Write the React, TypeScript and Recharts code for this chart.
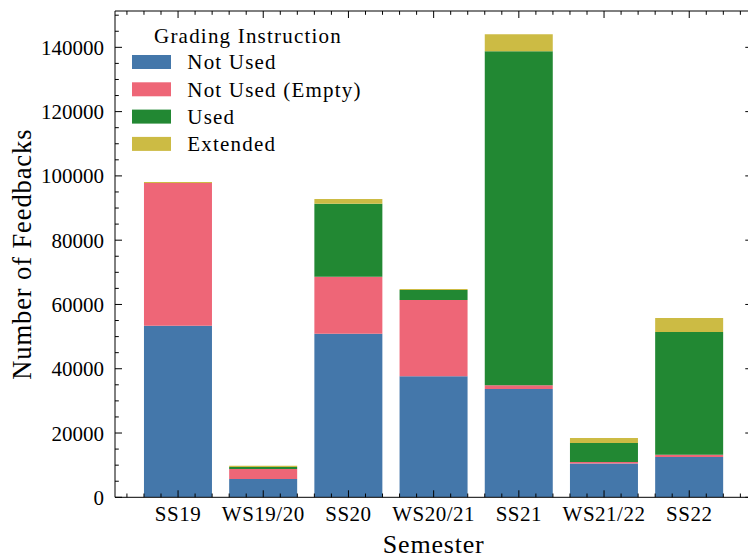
import React from 'react';
import { BarChart, Bar, XAxis, YAxis, Legend } from 'recharts';

const semesters = ['SS19', 'WS19/20', 'SS20', 'WS20/21', 'SS21', 'WS21/22', 'SS22'];
const notUsed = [53400, 5700, 50900, 37700, 33700, 10500, 12500];
const notUsedEmpty = [44400, 3100, 17700, 23700, 1200, 500, 700];
const used = [0, 600, 22700, 3100, 103900, 5900, 38200];
const extended = [300, 400, 1500, 300, 5300, 1550, 4400];

// y ticks every 5000 (labels on multiples of 20000)
const yTicks = [
  0, 5000, 10000, 15000, 20000, 25000, 30000, 35000, 40000, 45000, 50000, 55000, 60000, 65000,
  70000, 75000, 80000, 85000, 90000, 95000, 100000, 105000, 110000, 115000, 120000, 125000,
  130000, 135000, 140000, 145000, 150000,
];
const yLabelStep = 20000;
// minor x ticks, in category units relative to each category centre
const xMinorOffsets = [-0.4, -0.2, 0.2, 0.4];
const xEdgeOffset = 0.6;

const series = [
  { key: 'notUsed', name: 'Not Used', color: '#4477AA' },
  { key: 'notUsedEmpty', name: 'Not Used (Empty)', color: '#EE6677' },
  { key: 'used', name: 'Used', color: '#228833' },
  { key: 'extended', name: 'Extended', color: '#CCBB44' },
];

const data = semesters.map((s, i) => ({
  semester: s,
  notUsed: notUsed[i],
  notUsedEmpty: notUsedEmpty[i],
  used: used[i],
  extended: extended[i],
}));

const FONT = '"Liberation Serif", "DejaVu Serif", serif';
const Y_DOMAIN: [number, number] = [0, 151300];
const CAT_PAD = 20.45;
const MAJOR = 7;
const MINOR = 3.8;

const txt = (size: number, spacing: number) => ({
  fontFamily: FONT,
  fontSize: size,
  letterSpacing: `${spacing}px`,
});

const minorPositions = (props: any) => {
  const { x, payload } = props;
  const unit = payload && payload.offset ? payload.offset * 2 : 85.2;
  const offs = [...xMinorOffsets];
  if (payload.value === semesters[0]) offs.push(-xEdgeOffset);
  if (payload.value === semesters[semesters.length - 1]) offs.push(xEdgeOffset);
  return offs.map((o) => x + o * unit);
};

const BottomTick = (props: any) => {
  const { x, y, payload } = props;
  const minors = minorPositions(props);
  return (
    <g>
      <line x1={x} x2={x} y1={y} y2={y - MAJOR} stroke="#000" strokeWidth={1} />
      {minors.map((mx, i) => (
        <line key={i} x1={mx} x2={mx} y1={y} y2={y - MINOR} stroke="#000" strokeWidth={1} />
      ))}
      <text x={x} y={y + 23.7} textAnchor="middle" fill="#000" style={txt(21, 0.5)}>
        {payload.value}
      </text>
    </g>
  );
};

const TopTick = (props: any) => {
  const { x, y } = props;
  const minors = minorPositions(props);
  return (
    <g>
      <line x1={x} x2={x} y1={y} y2={y + MAJOR} stroke="#000" strokeWidth={1} />
      {minors.map((mx, i) => (
        <line key={i} x1={mx} x2={mx} y1={y} y2={y + MINOR} stroke="#000" strokeWidth={1} />
      ))}
    </g>
  );
};

const LeftTick = (props: any) => {
  const { x, y, payload } = props;
  const v = Number(payload.value);
  const major = v % yLabelStep === 0;
  return (
    <g>
      <line x1={x} x2={x + (major ? MAJOR : MINOR)} y1={y} y2={y} stroke="#000" strokeWidth={1} />
      {major && (
        <text x={x - 11} y={y} dy={7.5} textAnchor="end" fill="#000" style={txt(21, 0)}>
          {v}
        </text>
      )}
    </g>
  );
};

const RightTick = (props: any) => {
  const { x, y, payload } = props;
  const major = Number(payload.value) % yLabelStep === 0;
  return <line x1={x} x2={x - (major ? MAJOR : MINOR)} y1={y} y2={y} stroke="#000" strokeWidth={1} />;
};

const SemesterLabel = (props: any) => {
  const vb = props.viewBox || { x: 115, y: 497.3, width: 637.3, height: 61.7 };
  return (
    <text x={vb.x + vb.width / 2} y={vb.y + 56} textAnchor="middle" fill="#000" style={txt(26, 0.8)}>
      Semester
    </text>
  );
};

const YLabel = (props: any) => {
  const vb = props.viewBox || { x: 0, y: 11, width: 115, height: 486.3 };
  const cx = vb.x + 31.5;
  const cy = vb.y + vb.height / 2;
  return (
    <text x={cx} y={cy} transform={`rotate(-90 ${cx} ${cy})`} textAnchor="middle" fill="#000" style={txt(26.5, 0.9)}>
      Number of Feedbacks
    </text>
  );
};

const LegendContent = (props: any) => {
  const payload: any[] = props.payload || [];
  const colorOf = (name: string, fallback: string) => {
    const found = payload.find((p) => p.value === name);
    return found && found.color ? found.color : fallback;
  };
  return (
    <svg width={400} height={170} style={{ display: 'block' }}>
      <text x={248} y={42.7} textAnchor="middle" fill="#000" style={txt(21, 1.2)}>
        Grading Instruction
      </text>
      {series.map((s, i) => (
        <g key={s.key}>
          <rect x={132} y={55 + 27.3 * i} width={39} height={14} fill={colorOf(s.name, s.color)} />
          <text x={187.3} y={69.3 + 27.3 * i} fill="#000" style={txt(21, 1.2)}>
            {s.name}
          </text>
        </g>
      ))}
    </svg>
  );
};

const spine = { stroke: '#000', strokeWidth: 1 };

export default function App() {
  return (
    <div style={{ position: 'absolute', left: 0, top: 0, width: 748, height: 559, overflow: 'hidden', background: '#fff', fontFamily: FONT }}>
      <BarChart
        width={760}
        height={559}
        data={data}
        margin={{ top: 11, right: 7.7, bottom: 0, left: 0 }}
        barCategoryGap="10%"
      >
        <XAxis
          xAxisId="cat"
          dataKey="semester"
          type="category"
          orientation="bottom"
          padding={{ left: CAT_PAD, right: CAT_PAD }}
          interval={0}
          height={61.7}
          tickSize={0}
          tickMargin={0}
          tickLine={false}
          axisLine={spine}
          tick={<BottomTick />}
          label={<SemesterLabel />}
        />
        <XAxis
          xAxisId="catTop"
          dataKey="semester"
          type="category"
          orientation="top"
          padding={{ left: CAT_PAD, right: CAT_PAD }}
          interval={0}
          height={0.01}
          tickSize={0}
          tickMargin={0}
          tickLine={false}
          axisLine={spine}
          tick={<TopTick />}
        />
        <YAxis
          yAxisId="main"
          type="number"
          domain={Y_DOMAIN}
          allowDataOverflow
          ticks={yTicks}
          interval={0}
          width={115}
          tickSize={0}
          tickMargin={0}
          tickLine={false}
          axisLine={spine}
          tick={<LeftTick />}
          label={<YLabel />}
        />
        <YAxis
          yAxisId="right"
          type="number"
          orientation="right"
          domain={Y_DOMAIN}
          allowDataOverflow
          ticks={yTicks}
          interval={0}
          width={0.01}
          tickSize={0}
          tickMargin={0}
          tickLine={false}
          axisLine={spine}
          tick={<RightTick />}
        />

        {series.map((s) => (
          <Bar
            key={s.key}
            dataKey={s.key}
            name={s.name}
            stackId="total"
            fill={s.color}
            xAxisId="cat"
            yAxisId="main"
            isAnimationActive={false}
          />
        ))}

        <Legend
          layout="vertical"
          align="center"
          verticalAlign="middle"
          content={<LegendContent />}
          wrapperStyle={{ left: 0, top: 0, width: 400, height: 170 }}
        />
      </BarChart>
    </div>
  );
}
